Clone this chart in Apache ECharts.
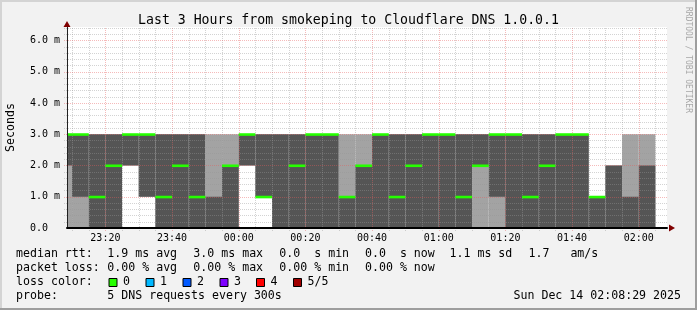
<!DOCTYPE html>
<html><head><meta charset="utf-8">
<script src="https://cdn.jsdelivr.net/npm/echarts@6/dist/echarts.min.js"></script>
<style>html,body{margin:0;padding:0;background:#f2f2f2;overflow:hidden}#c{width:697px;height:310px}</style>
</head><body><div id="c"></div>
<script>
// ---- data (RTT in milliseconds, 5 pings per 300 s step, sorted low..high) ----
const stepEnd = ["23:10","23:15","23:20","23:25","23:30","23:35","23:40","23:45","23:50","23:55",
  "00:00","00:05","00:10","00:15","00:20","00:25","00:30","00:35","00:40","00:45",
  "00:50","00:55","01:00","01:05","01:10","01:15","01:20","01:25","01:30","01:35",
  "01:40","01:45","01:50","01:55","02:00","02:05"];
const pingLow  = [0,0,0,0,2,1,0,0,0,0, 0,2,1,0,0,0,0,0,0,0, 0,0,0,0,0,0,0,0,0,0, 0,0,0,0,0,0];
const ping2    = [2,1,0,0,2,1,0,0,0,0, 0,2,1,0,0,0,0,0,0,0, 0,0,0,0,0,2,1,0,0,0, 0,0,0,0,0,0];
const medianRtt= [3,3,1,2,3,3,1,2,1,0, 2,3,1,0,2,3,3,1,2,3, 1,2,3,3,1,2,3,3,1,2, 3,3,1,0,0,0];
const ping4    = [3,3,3,3,3,3,3,3,3,1, 2,3,3,3,3,3,3,1,2,3, 3,3,3,3,3,3,3,3,3,3, 3,3,1,2,1,2];
const pingHigh = [3,3,3,3,3,3,3,3,3,3, 3,3,3,3,3,3,3,3,3,3, 3,3,3,3,3,3,3,3,3,3, 3,3,1,2,3,3];
const stepMinutes = 5;
const axisStart = "23:08:29";
const axisEnd = "02:08:29";
const xTickLabels = ["23:20","23:40","00:00","00:20","00:40","01:00","01:20","01:40","02:00"];
const yTickValues = [0,1,2,3,4,5,6];
const yMax = 6.43;
const lossLabels = ["0","1","2","3","4","5/5"];
const lossColors = ["#26ff00","#00b8ff","#0059ff","#7e00ff","#ff0000","#a10000"];
const titleText = "Last 3 Hours from smokeping to Cloudflare DNS 1.0.0.1";
const legendRows = [
  ["median rtt:", "1.9 ms avg", "3.0 ms max", "0.0  s min", "0.0  s now", "1.1 ms sd", "1.7   am/s"],
  ["packet loss:", "0.00 % avg", "0.00 % max", "0.00 % min", "0.00 % now"]
];
const probeText = "5 DNS requests every 300s";
const dateText = "Sun Dec 14 02:08:29 2025";

// ---- helpers ----
function toMin(t){ // minutes since 23:00 (crossing midnight)
  const p = t.split(":").map(Number);
  let m = p[0]*60 + p[1] + (p[2]||0)/60;
  if (p[0] < 12) m += 24*60;
  return m - 23*60;
}
const xMin = toMin(axisStart), xMax = toMin(axisEnd);
const labelMinutes = xTickLabels.map(toMin);
const labelMap = {}; xTickLabels.forEach((l,i)=>labelMap[labelMinutes[i]] = l);

const smokeData = stepEnd.map((t,i)=>[toMin(t), pingLow[i], ping2[i], medianRtt[i], ping4[i], pingHigh[i]]);

// grid lines (ticks): vertical every 5 min, major every 20; horizontal every 0.2, major every 1
const gridData = [];
for (let m = Math.ceil(xMin/5)*5; m < xMax; m += 5) gridData.push([0, m, m % 20 === 0 ? 1 : 0]);
for (let k = 1; k*0.2 <= yMax; k++) gridData.push([1, +(k*0.2).toFixed(1), k % 5 === 0 ? 1 : 0]);

const FONT = "'DejaVu Sans Mono', monospace";
const chart = echarts.init(document.getElementById('c'), null, {renderer:'canvas'});

const graphics = [];
// frame
graphics.push({type:'rect', shape:{x:0,y:0,width:697,height:2}, style:{fill:'#d4d4d4'}, silent:true});
graphics.push({type:'rect', shape:{x:0,y:0,width:2,height:310}, style:{fill:'#d4d4d4'}, silent:true});
graphics.push({type:'rect', shape:{x:0,y:308,width:697,height:2}, style:{fill:'#9e9e9e'}, silent:true});
graphics.push({type:'rect', shape:{x:695,y:0,width:2,height:310}, style:{fill:'#9e9e9e'}, silent:true});
// arrows
graphics.push({type:'polygon', shape:{points:[[669,224.5],[675,228],[669,231.5]]}, style:{fill:'#800000'}, z:20});
graphics.push({type:'polygon', shape:{points:[[63.5,27],[67,21],[70.5,27]]}, style:{fill:'#800000'}, z:20});
// y unit title
graphics.push({type:'text', x:11, y:127.5, rotation:Math.PI/2,
  style:{text:'Seconds', fontSize:11.6, fontFamily:FONT, fill:'#000', align:'center', verticalAlign:'middle'}});
// watermark
graphics.push({type:'text', x:688, y:60, rotation:-Math.PI/2,
  style:{text:'RRDTOOL / TOBI OETIKER', fontSize:8, fontFamily:FONT, fill:'#a8a8a8', align:'center', verticalAlign:'middle'}});
// legend rows
const colX = [16, 107.3, 193.3, 279.3, 365, 449.5, 528.5];
legendRows.forEach((row, r)=>{
  row.forEach((txt, c)=>{
    graphics.push({type:'text', x:colX[c], y:254.3 + r*14,
      style:{text:txt, fontSize:11.6, fontFamily:FONT, fill:'#000', align:'left', verticalAlign:'middle'}});
  });
});
graphics.push({type:'text', x:16, y:282.3, style:{text:'loss color:', fontSize:11.6, fontFamily:FONT, fill:'#000', align:'left', verticalAlign:'middle'}});
const boxX = [108.5, 145.5, 182.5, 219.5, 256, 293];
lossLabels.forEach((l,i)=>{
  graphics.push({type:'rect', shape:{x:boxX[i]+0.5, y:278.5, width:8, height:8}, style:{fill:lossColors[i], stroke:'#000', lineWidth:1}});
  graphics.push({type:'text', x:boxX[i]+14.5, y:282.3, style:{text:l, fontSize:11.6, fontFamily:FONT, fill:'#000', align:'left', verticalAlign:'middle'}});
});
graphics.push({type:'text', x:16, y:296.3, style:{text:'probe:', fontSize:11.6, fontFamily:FONT, fill:'#000', align:'left', verticalAlign:'middle'}});
graphics.push({type:'text', x:107.3, y:296.3, style:{text:probeText, fontSize:11.6, fontFamily:FONT, fill:'#000', align:'left', verticalAlign:'middle'}});
graphics.push({type:'text', x:681, y:296.3, style:{text:dateText, fontSize:11.6, fontFamily:FONT, fill:'#000', align:'right', verticalAlign:'middle'}});

function colGeom(api){
  const end = api.value(0), start = end - stepMinutes;
  return {x0:api.coord([start, 0])[0], x1:api.coord([end, 0])[0], y:v => api.coord([end, v])[1]};
}

const option = {
  animation:false,
  backgroundColor:'#f2f2f2',
  title:{text:titleText, left:'center', top:9,
    textStyle:{fontSize:13.2, fontFamily:FONT, fontWeight:'normal', color:'#000'}},
  grid:{left:67, right:30, top:27, bottom:82, show:true, backgroundColor:'#ffffff', borderWidth:0},
  xAxis:{type:'value', min:xMin, max:xMax, z:10,
    splitLine:{show:false}, axisTick:{show:false},
    axisLine:{show:true, onZero:false, lineStyle:{color:'#000', width:2}},
    axisLabel:{customValues:labelMinutes, margin:5, fontSize:10, fontFamily:FONT, color:'#000',
      formatter:v=>{ for (const k in labelMap) if (Math.abs(+k - v) < 1e-6) return labelMap[k]; return ''; }}
  },
  yAxis:{type:'value', min:0, max:yMax, interval:1, z:10,
    splitLine:{show:false}, axisTick:{show:false},
    axisLine:{show:true, lineStyle:{color:'#212121', width:1}},
    axisLabel:{customValues:yTickValues, margin:7, fontSize:10, fontFamily:FONT, color:'#000',
      formatter:v=> Math.abs(v - Math.round(v)) > 1e-6 ? '' : (v === 0 ? '0.0  ' : v.toFixed(1) + ' m')}
  },
  series:[
    {type:'custom', name:'smoke', clip:true, z:2, data:smokeData,
      renderItem:(params, api)=>{
        const g = colGeom(api), y = g.y;
        const p1 = api.value(1), p2 = api.value(2), p4 = api.value(4), p5 = api.value(5);
        const ch = [];
        if (p5 > p1) ch.push({type:'rect', shape:{x:g.x0, y:y(p5), width:g.x1-g.x0, height:y(p1)-y(p5)}, style:{fill:'#a3a3a3'}});
        if (p4 > p2) ch.push({type:'rect', shape:{x:g.x0, y:y(p4), width:g.x1-g.x0, height:y(p2)-y(p4)}, style:{fill:'#555555'}});
        return {type:'group', children:ch};
      }
    },
    {type:'custom', name:'grid', clip:false, z:4, silent:true, data:gridData,
      renderItem:(params, api)=>{
        const vert = api.value(0) === 0, v = api.value(1), major = api.value(2) === 1;
        const color = major ? 'rgba(230,90,90,0.42)' : 'rgba(150,150,150,0.42)';
        let shape;
        if (vert) {
          const x = Math.round(api.coord([v,0])[0]) + 0.5;
          shape = {x1:x, y1:api.coord([v,0])[1] + 3, x2:x, y2:api.coord([v,yMax])[1]};
        } else {
          const yy = Math.round(api.coord([xMin,v])[1]) + 0.5;
          shape = {x1:api.coord([xMin,v])[0] - 3, y1:yy, x2:api.coord([xMax,v])[0], y2:yy};
        }
        return {type:'line', shape, style:{stroke:color, lineWidth:1, lineDash:[1,1]}};
      }
    },
    {type:'custom', name:'median rtt', clip:true, z:6, data:smokeData,
      renderItem:(params, api)=>{
        const g = colGeom(api);
        return {type:'rect', shape:{x:g.x0, y:g.y(api.value(3))-1, width:g.x1-g.x0, height:2.6}, style:{fill:lossColors[0]}};
      }
    }
  ],
  graphic: graphics
};
chart.setOption(option);
</script></body></html>
